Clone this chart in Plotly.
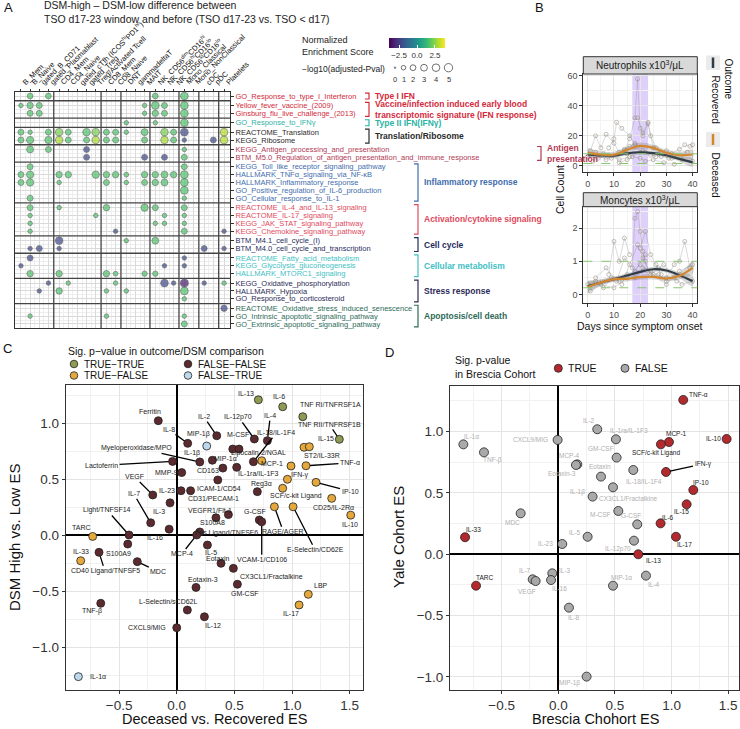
import math
import plotly.graph_objects as go

W, H = 740, 729
FONT = "Liberation Sans, Arial, sans-serif"


def xp(px):
    return px / W


def yp(py):
    return 1 - py / H


# ======================= Panel A data =======================
a_cells = ["B_Mem", "B_Naive", "gated_B_CD71", "gated_Plasmablast", "CD4_Mem", "CD4_Naive",
           "gated_cTfh (ICOS<sup>hi</sup>PD1<sup>hi</sup>)", "gated_Treg", "Treg/Activated Tcell",
           "CD8_Mem", "CD8_Naive", "DNT", "gammadeltaT", "MAIT",
           "NK_CD56<sup>dim</sup>CD16<sup>hi</sup>", "NK_CD56<sup>hi</sup>CD16<sup>lo</sup>",
           "NK_CD56<sup>lo</sup>CD16<sup>lo</sup>", "Mono_Classical", "Mono_NonClassical",
           "cDC", "pDC", "Platelets"]
a_cell_group = [0, 0, 0, 0, 1, 1, 1, 1, 1, 2, 2, 3, 3, 3, 4, 4, 4, 5, 5, 6, 6, 7]

a_pathways = ["GO_Response_to_type_I_Interferon", "Yellow_fever_vaccine_(2009)",
              "Ginsburg_flu_live_challenge_(2013)", "GO_Response_to_IFNγ",
              "REACTOME_Translation", "KEGG_Ribosome",
              "KEGG_Antigen_processing_and_presentation",
              "BTM_M5.0_Regulation_of_antigen_presentation_and_immune_response",
              "KEGG_Toll_like_receptor_signaling_pathway", "HALLMARK_TNFα_signaling_via_NF-κB",
              "HALLMARK_Inflammatory_response", "GO_Positive_regulation_of_IL-6_production",
              "GO_Cellular_response_to_IL-1", "REACTOME_IL-4_and_IL-13_signaling",
              "REACTOME_IL-17_signaling", "KEGG_JAK_STAT_signaling_pathway",
              "KEGG_Chemokine_signaling_pathway", "BTM_M4.1_cell_cycle_(I)",
              "BTM_M4.0_cell_cycle_and_transcription", "REACTOME_Fatty_acid_metabolism",
              "KEGG_Glycolysis_gluconeogenesis", "HALLMARK_MTORC1_signaling",
              "KEGG_Oxidative_phosphorylation", "HALLMARK_Hypoxia", "GO_Response_to_corticosteroid",
              "REACTOME_Oxidative_stress_induced_senescence",
              "GO_Intrinsic_apoptotic_signaling_pathway", "GO_Extrinsic_apoptotic_signaling_pathway"]
a_path_group = [0, 1, 1, 2, 3, 3, 4, 4, 5, 5, 5, 5, 5, 6, 6, 6, 6, 7, 7, 8, 8, 8, 9, 9, 9, 10, 10, 10]

a_group_names = ["Type I IFN",
                 "Vaccine/infection induced early blood<br>transcriptomic signature (IFN response)",
                 "Type II IFN(IFNγ)", "Translation/Ribosome", "Antigen<br>presentation",
                 "Inflammatory response", "Activation/cytokine signaling", "Cell cycle",
                 "Cellular metabolism", "Stress response", "Apoptosis/cell death"]

# dots: pathway row index, cell column index, NES, -log10(adj p)
a_dot_row = [0, 0, 0, 0,
             1, 1, 1, 1, 1, 1, 1,
             2, 2, 2, 2, 2, 2,
             3, 3, 3,
             4, 4, 4, 4, 4, 4, 4, 4, 4, 4, 4, 4, 4, 4, 4,
             5, 5, 5, 5, 5, 5, 5, 5, 5, 5, 5, 5, 5, 5, 5,
             6, 6, 6, 6,
             7, 7, 7, 7,
             8, 8,
             9, 9, 9, 9, 9, 9, 9, 9, 9, 9, 9, 9, 9,
             10, 10, 10, 10, 10, 10, 10, 10, 10,
             11,
             12, 12,
             13, 13, 13, 13, 13, 13,
             14, 14, 14, 14,
             15, 15, 15, 15,
             16, 16, 16, 16,
             17, 17, 17,
             18, 18, 18, 18, 18,
             19, 19,
             20, 20, 20,
             21, 21, 21, 21, 21, 21,
             22, 22, 22, 22, 22, 22, 22, 22,
             23, 23, 23, 23, 23,
             24,
             25,
             26, 26, 26,
             27]
a_dot_col = [1, 3, 14, 17,
             0, 1, 2, 13, 14, 15, 17,
             1, 2, 13, 14, 15, 17,
             11, 14, 17,
             0, 1, 3, 4, 5, 7, 8, 9, 10, 11, 13, 15, 16, 17, 21,
             0, 1, 3, 4, 5, 7, 8, 9, 10, 13, 15, 16, 17, 20, 21,
             1, 3, 7, 17,
             7, 13, 15, 17,
             1, 17,
             0, 1, 4, 5, 8, 9, 10, 11, 13, 14, 15, 16, 17,
             0, 1, 4, 9, 11, 13, 14, 15, 17,
             17,
             1, 17,
             1, 4, 9, 13, 14, 17,
             1, 8, 15, 17,
             1, 14, 15, 17,
             1, 10, 17, 21,
             4, 11, 14,
             1, 2, 4, 19, 21,
             1, 17,
             0, 15, 17,
             1, 4, 9, 10, 13, 14,
             3, 5, 10, 15, 16, 17, 19, 21,
             2, 4, 9, 11, 17,
             17,
             21,
             1, 9, 17,
             17]
a_dot_nes = [1.7, 1.7, 1.7, 1.7,
             1.7, 1.7, 1.7, 1.7, 1.7, 1.7, 1.7,
             1.7, 1.7, 1.7, 1.7, 1.7, 1.7,
             1.7, 1.7, 1.7,
             1.7, 1.7, 1.7, 2.3, 1.7, 1.7, 2.3, 1.7, 1.7, 1.7, 1.7, 2.3, 1.7, -2.2, 3.0,
             1.7, 1.7, 1.7, 2.9, 1.7, 1.7, 2.9, 1.7, 1.7, 1.7, 2.9, 1.7, -2.2, -2.2, 3.0,
             1.7, 1.7, -2.2, 1.7,
             -2.2, -2.2, -2.2, 1.7,
             1.7, 1.7,
             1.7, 1.7, 1.7, 1.7, 1.7, 1.7, 1.7, 1.7, 1.7, 1.7, 1.7, 1.7, 1.7,
             1.7, 1.7, 1.7, 1.7, 1.7, 1.7, 1.7, 1.7, 1.7,
             1.7,
             1.7, 1.7,
             1.7, 1.7, 1.7, 1.7, 1.7, 1.7,
             1.7, 1.7, 1.7, 1.7,
             1.7, 1.7, 1.7, 1.7,
             1.7, -2.2, 1.7, -2.2,
             -2.2, 1.7, 1.7,
             -2.2, -2.2, -2.2, -2.2, -2.2,
             -2.2, -2.2,
             -2.2, -2.2, -2.2,
             1.7, 1.7, 1.7, 1.7, 1.7, 1.7,
             -2.2, 1.7, 1.7, -2.2, -2.2, -3.3, -2.2, 1.7,
             -2.2, 1.7, 1.7, 1.7, 1.7,
             1.7,
             -2.2,
             1.7, 1.7, 1.7,
             1.7]
a_dot_logp = [2.0, 2.0, 2.0, 4.2,
              1.0, 2.6, 2.2, 1.0, 4.2, 2.2, 4.2,
              2.2, 2.2, 1.0, 2.6, 2.2, 4.2,
              1.0, 1.0, 4.2,
              2.2, 1.0, 2.2, 4.0, 2.2, 4.0, 4.0, 2.2, 2.2, 1.0, 3.2, 4.0, 2.2, 4.2, 4.2,
              2.2, 3.6, 3.6, 4.0, 2.2, 2.2, 4.0, 2.2, 2.2, 2.2, 4.0, 2.2, 1.0, 2.2, 4.2,
              3.2, 2.2, 2.2, 1.0,
              2.2, 2.2, 2.2, 2.2,
              2.2, 2.2,
              2.2, 3.6, 2.6, 2.6, 3.6, 2.6, 2.6, 1.2, 2.6, 2.6, 3.2, 2.6, 4.2,
              2.2, 3.6, 1.0, 2.2, 1.0, 2.2, 2.6, 3.2, 4.2,
              4.2,
              2.2, 1.0,
              2.2, 1.0, 2.6, 3.6, 2.2, 2.2,
              1.0, 1.0, 1.0, 1.0,
              1.0, 1.0, 1.0, 1.0,
              1.0, 1.0, 2.2, 1.0,
              4.0, 1.0, 3.2,
              1.0, 2.2, 1.0, 2.2, 1.0,
              2.2, 1.0,
              1.0, 1.0, 1.0,
              2.6, 2.6, 2.6, 1.2, 1.6, 1.6,
              1.0, 1.0, 1.0, 4.2, 1.0, 4.6, 1.0, 1.0,
              1.0, 2.6, 1.0, 1.0, 4.2,
              1.0,
              2.6,
              1.0, 1.0, 1.0,
              2.2]

# ======================= Panel B data =======================
b_days = [0, 5, 10, 15, 20, 25, 30, 35, 40]
b_neu_rec = [7.6, 6.9, 6.8, 8.2, 9.0, 8.4, 7.0, 4.6, 2.2]
b_neu_rec_se = [2.2, 1.5, 1.3, 1.3, 1.4, 1.3, 1.4, 1.8, 2.8]
b_neu_dec = [8.8, 7.4, 7.3, 10.6, 13.3, 11.9, 8.7, 7.0, 7.5]
b_neu_dec_se = [3.0, 2.2, 2.0, 2.0, 2.2, 2.0, 2.0, 2.2, 3.0]
b_mono_rec = [0.25, 0.36, 0.46, 0.57, 0.68, 0.76, 0.72, 0.58, 0.40]
b_mono_rec_se = [0.15, 0.08, 0.07, 0.07, 0.07, 0.07, 0.07, 0.09, 0.15]
b_mono_dec = [0.22, 0.36, 0.46, 0.47, 0.52, 0.53, 0.48, 0.56, 0.80]
b_mono_dec_se = [0.20, 0.10, 0.08, 0.08, 0.08, 0.08, 0.08, 0.10, 0.18]

b_neu_traj_days = [[14, 16, 18, 19, 20, 21, 23, 25],
                   [1, 3, 5, 7, 10, 12, 15],
                   [8, 10, 11, 13, 16, 18],
                   [19, 21, 23, 24, 26, 28],
                   [30, 32, 35, 37, 39, 40],
                   [0, 4, 8, 12, 16, 20, 24, 28, 32, 36, 40],
                   [2, 6, 9, 14, 18, 22, 26],
                   [12, 15, 17, 20, 22, 25, 29, 33],
                   [3, 7, 11, 16, 21, 27, 31, 38]]
b_neu_traj_vals = [[10, 18, 32, 58, 25, 20, 28, 12],
                   [10, 20, 12, 21, 15, 9, 8],
                   [12, 18, 29, 25, 20, 14],
                   [32, 22, 29, 20, 12, 9],
                   [10, 8, 11, 14, 13, 14],
                   [6, 5, 7, 4, 6, 9, 7, 6, 5, 4, 3],
                   [3, 8, 5, 11, 15, 9, 6],
                   [2, 4, 6, 5, 3, 4, 2, 1],
                   [9, 4, 7, 13, 10, 8, 5, 9]]
b_mono_traj_days = [[17, 18, 19, 20, 21, 22, 23],
                    [8, 10, 12, 14, 16],
                    [20, 22, 24, 26, 28],
                    [30, 33, 35, 37, 39],
                    [0, 3, 6, 9, 12, 15, 18, 21, 24, 27, 30, 33, 36, 40],
                    [1, 5, 10, 15, 20, 25, 30, 35, 40],
                    [3, 7, 11, 14, 18, 22, 27],
                    [13, 16, 19, 21, 24, 29, 34]]
b_mono_traj_vals = [[0.8, 2.3, 2.5, 1.9, 1.3, 1.0, 0.7],
                    [0.6, 1.6, 1.0, 1.7, 1.2],
                    [1.4, 1.9, 1.2, 0.9, 0.6],
                    [0.5, 0.9, 1.0, 1.6, 0.8],
                    [0.3, 0.4, 0.2, 0.5, 0.4, 0.6, 0.5, 0.8, 0.7, 0.6, 0.4, 0.5, 0.3, 0.4],
                    [0.1, 0.3, 0.2, 0.5, 0.9, 0.6, 0.3, 0.7, 0.9],
                    [0.5, 0.8, 0.4, 1.1, 0.7, 1.2, 0.8],
                    [0.3, 0.9, 1.5, 1.1, 0.6, 0.9, 0.4]]
b_neu_ref = [1.5, 8.0]
b_mono_ref = [0.2, 1.0]
b_window = [17, 23]

# ======================= Panel C data =======================
c_names = ["IL-13", "IL-6", "TNF RI/TNFRSF1A", "TNF RII/TNFRSF1B", "IL-15", "ST2/IL-33R", "TNF-α",
           "MCP-1", "Lipocalin-2/NGAL", "IFN-γ", "IP-10", "SCF/c-kit Ligand", "CD25/IL-2Rα", "IL-10",
           "RAGE/AGER", "E-Selectin/CD62E", "LBP", "IL-17", "TARC", "IL-33", "MIP-1β", "IL-1α",
           "Ferritin", "IL-8", "IL-2", "M-CSF", "IL-12p70", "IL-4", "IL-18/IL-1F4",
           "Myeloperoxidase/MPO", "IL-1β", "MIP-1α", "Lactoferrin", "MMP-9", "CD163", "IL-1ra/IL-1F3",
           "CD31/PECAM-1", "ICAM-1/CD54", "IL-23", "Reg3α", "VEGF", "IL-3", "IL-7", "VEGFR1/Flt-1",
           "S100A8", "G-CSF", "VCAM-1/CD106", "IL-16", "Light/TNFSF14", "Fas Ligand/TNFSF6", "MCP-4",
           "S100A9", "IL-5", "CD40 Ligand/TNFSF5", "MDC", "Eotaxin", "CX3CL1/Fractalkine", "GM-CSF",
           "Eotaxin-3", "L-Selectin/sCD62L", "IL-12", "CXCL9/MIG", "TNF-β"]
c_x = [0.708, 0.919, 1.093, 1.41, 1.104, 1.15, 1.121,
       0.991, 0.737, 0.96, 1.208, 0.919, 1.344, 1.509,
       0.847, 1.009, 1.141, 1.061, -0.729, -0.833, 0.26, -0.853,
       -0.16, 0.095, 0.347, 0.486, 0.673, 0.786, 0.665,
       0.2, 0.54, 0.309, -0.036, 0.043, 0.40, 0.52,
       0.356, 0.12, 0.037, 0.699, -0.208, -0.058, -0.226, 0.448,
       0.34, 0.716, 0.737, -0.066, -0.414, 0.2, 0.173,
       -0.425, 0.266, -0.674, -0.342, 0.384, 0.491, 0.526,
       0.167, 0.092, 0.24, 0.0, -0.659]
c_y = [1.21, 1.148, 1.059, 0.857, 0.786, 0.791, 0.621,
       0.619, 0.666, 0.50, 0.473, 0.42, 0.33, 0.18,
       0.255, 0.255, -0.527, -0.622, -0.01, -0.227, 0.797, -1.262,
       1.023, 0.821, 0.889, 0.77, 0.86, 0.845, 0.657,
       0.655, 0.77, 0.67, 0.66, 0.56, 0.60, 0.607,
       0.494, 0.398, 0.398, 0.39, 0.36, 0.29, 0.112, 0.185,
       0.157, 0.137, 0.12, 0.055, 0.003, 0.03, 0.003,
       -0.078, -0.087, -0.152, -0.235, -0.25, -0.295, -0.437,
       -0.465, -0.667, -0.727, -0.825, -0.607]
c_sig = ["TRUE-TRUE"] * 4 + ["TRUE-FALSE"] * 16 + ["FALSE-TRUE", "FALSE-TRUE"] + ["FALSE-FALSE"] * 41
c_levels = ["TRUE-TRUE", "TRUE-FALSE", "FALSE-FALSE", "FALSE-TRUE"]

# ======================= Panel D data =======================
d_names = ["TNF-α", "IL-2", "IL-1ra/IL-1F3", "IL-1α", "CXCL9/MIG", "MCP-1", "SCF/c-kit Ligand", "IL-10",
           "TNF-β", "GM-CSF", "MCP-4", "Eotaxin-3", "Eotaxin", "IL-18/IL-1F4", "IFN-γ", "IL-1β",
           "IP-10", "CX3CL1/Fractalkine", "IL-15", "MDC", "M-CSF", "G-CSF", "IL-6", "IL-33", "IL-5",
           "IL-23", "IL-12p70", "IL-13", "IL-17", "TARC", "IL-7", "VEGF", "IL-3", "IL-16", "MIP-1α",
           "IL-4", "IL-8", "MIP-1β"]
d_x = [1.103, 0.344, 0.509, -0.838, -0.006, 0.977, 0.906, 1.486,
       -0.656, 0.515, 0.168, 0.156, 0.377, 0.662, 0.951, 0.483,
       1.192, 0.303, 1.133, -0.332, 0.53, 0.697, 0.903, -0.823, 0.259,
       0.035, 0.668, 0.706, 1.039, -0.726, -0.226, -0.2, -0.053, -0.064, 0.483,
       0.774, 0.094, 0.25]
d_y = [1.258, 1.019, 0.937, 0.896, 0.932, 0.915, 0.896, 0.94,
       0.831, 0.788, 0.733, 0.728, 0.633, 0.687, 0.671, 0.546,
       0.524, 0.47, 0.407, 0.334, 0.353, 0.244, 0.252, 0.139, 0.143,
       0.084, 0.111, 0.0, 0.143, -0.256, -0.204, -0.218, -0.155, -0.21, -0.256,
       -0.174, -0.435, -0.997]
d_sig = [True, False, False, False, False, True, True, True,
         False, False, False, False, False, False, True, False,
         True, False, True, False, False, False, True, True, False,
         False, False, True, True, True, False, False, False, False, False,
         False, False, False]

# ======================= styles =======================
a_group_colors = ["#D42A3C", "#D42A3C", "#2DB3A5", "#2A2A2A", "#B23A55", "#3F6EAE", "#E04A5E",
                  "#1F2C60", "#43BFC4", "#2C2B57", "#2E6A58"]
c_colors = {"TRUE-TRUE": "#8E9B52", "TRUE-FALSE": "#E4A83C", "FALSE-FALSE": "#5B2A2F",
            "FALSE-TRUE": "#BCD8EB"}
rec_color, dec_color = "#2F3B45", "#D3862D"

c_label_off = {
    "IL-13": (-12, -6), "IL-6": (-4, -10), "TNF RI/TNFRSF1A": (28, -12), "TNF RII/TNFRSF1B": (-10, -15),
    "IL-15": (22, -9), "ST2/IL-33R": (13, 9), "TNF-α": (44, -3), "MCP-1": (-19, -2),
    "Lipocalin-2/NGAL": (-3, -8), "IFN-γ": (13, -4), "IP-10": (34, 9), "SCF/c-kit Ligand": (13, 8),
    "CD25/IL-2Rα": (2, 9), "IL-10": (-1, 9), "RAGE/AGER": (9, 25), "E-Selectin/CD62E": (22, 43),
    "LBP": (13, -9), "IL-17": (-8, 9), "TARC": (-11, -9), "IL-33": (0, -9), "MIP-1β": (-8, -12),
    "IL-1α": (20, 0), "Ferritin": (-8, -9), "IL-8": (-19, -14), "IL-2": (-13, -19), "M-CSF": (5, -15),
    "IL-12p70": (-16, -22), "IL-4": (3, -25), "IL-18/IL-1F4": (23, -29), "Myeloperoxidase/MPO": (-63, -14),
    "IL-1β": (-47, 4), "MIP-1α": (13, -2), "Lactoferrin": (-71, 4), "MMP-9": (-15, 0), "CD163": (-15, 2),
    "IL-1ra/IL-1F3": (22, 6), "CD31/PECAM-1": (-4, 19), "ICAM-1/CD54": (28, -2), "IL-23": (-14, 0),
    "Reg3α": (4, -8), "VEGF": (-18, -18), "IL-3": (-11, 9), "IL-7": (-17, -29), "VEGFR1/Flt-1": (-18, -4),
    "S100A8": (-3, 5), "G-CSF": (-4, -8), "VCAM-1/CD106": (0, 38), "IL-16": (-14, 8),
    "Light/TNFSF14": (-22, -25), "Fas Ligand/TNFSF6": (27, 1), "MCP-4": (-15, 19), "S100A9": (-9, 9),
    "IL-5": (4, 7), "CD40 Ligand/TNFSF5": (6, 19), "MDC": (21, 10), "Eotaxin": (-4, -5),
    "CX3CL1/Fractalkine": (38, 8), "GM-CSF": (8, 9), "Eotaxin-3": (7, -8), "L-Selectin/sCD62L": (-19, -9),
    "IL-12": (9, 9), "CXCL9/MIG": (-30, 0), "TNF-β": (-9, 8)}
c_label_line = {"IL-8", "IL-2", "IL-12p70", "IL-4", "IL-18/IL-1F4", "TNF RII/TNFRSF1B", "TNF-α",
                "Myeloperoxidase/MPO", "Lactoferrin", "VEGF", "IL-7", "Light/TNFSF14", "IP-10",
                "RAGE/AGER", "E-Selectin/CD62E", "VCAM-1/CD106", "MCP-4", "CD40 Ligand/TNFSF5", "MDC"}

d_label_off = {
    "TNF-α": (15, -5), "IL-2": (-8, -9), "IL-1ra/IL-1F3": (13, -9), "IL-1α": (8, -8), "CXCL9/MIG": (-27, 0),
    "MCP-1": (8, -9), "SCF/c-kit Ligand": (-5, 9), "IL-10": (-13, 0), "TNF-β": (9, 8), "GM-CSF": (-16, -9),
    "MCP-4": (-8, -9), "Eotaxin-3": (-14, 9), "Eotaxin": (-1, -10), "IL-18/IL-1F4": (11, 11),
    "IFN-γ": (37, -8), "IL-1β": (-36, 5), "IP-10": (8, -8), "CX3CL1/Fractalkine": (36, 2),
    "IL-15": (-5, 7), "MDC": (-8, 9), "M-CSF": (-18, 4), "G-CSF": (-6, -9), "IL-6": (7, -6),
    "IL-33": (8, -8), "IL-5": (-13, -4), "IL-23": (-17, 0), "IL-12p70": (-16, 8), "IL-13": (15, 6),
    "IL-17": (9, 8), "TARC": (9, -8), "IL-7": (-8, -9), "VEGF": (-9, 10), "IL-3": (13, -3),
    "IL-16": (8, 8), "MIP-1α": (8, -8), "IL-4": (8, 9), "IL-8": (5, 10), "MIP-1β": (-17, 6)}
d_label_line = {"IFN-γ"}

# ======================= build figure =======================
fig = go.Figure()
shapes = []
annotations = []


def pa(px_x, px_y, text, size, color="#111", xanchor="center", yanchor="middle", **kw):
    d = dict(xref="paper", yref="paper", x=xp(px_x), y=yp(px_y), text=text, showarrow=False,
             xanchor=xanchor, yanchor=yanchor, font=dict(family=FONT, size=size, color=color))
    d.update(kw)
    annotations.append(d)


# ---------- Panel A ----------
col_pos = [i + 0.17 * g for i, g in enumerate(a_cell_group)]
row_pos = [j + 0.2 * g for j, g in enumerate(a_path_group)]


def dot_size(v):
    return 1.5 + 6.8 * math.sqrt(max(v, 0) / 5.0)


fig.add_trace(go.Scatter(
    x=[col_pos[c] for c in a_dot_col], y=[row_pos[r] for r in a_dot_row],
    mode="markers", xaxis="x", yaxis="y", showlegend=False,
    marker=dict(size=[dot_size(v) for v in a_dot_logp], color=a_dot_nes, coloraxis="coloraxis",
                line=dict(color="#333333", width=0.6)),
    hoverinfo="skip"))

col_minor = []
for i in range(len(col_pos) - 1):
    if a_cell_group[i] == a_cell_group[i + 1]:
        col_minor.append((col_pos[i] + col_pos[i + 1]) / 2)
row_minor = []
for j in range(len(row_pos) - 1):
    if a_path_group[j] == a_path_group[j + 1]:
        row_minor.append((row_pos[j] + row_pos[j + 1]) / 2)

x_lo, x_hi = -0.65, col_pos[-1] + 0.65
y_lo, y_hi = -0.55, row_pos[-1] + 0.55

# separators between facet groups
for i in range(len(col_pos) - 1):
    if a_cell_group[i] != a_cell_group[i + 1]:
        xm = (col_pos[i] + col_pos[i + 1]) / 2
        shapes.append(dict(type="line", xref="x", yref="y", x0=xm, x1=xm, y0=y_lo, y1=y_hi,
                           line=dict(color="#444444", width=1.3)))
for j in range(len(row_pos) - 1):
    if a_path_group[j] != a_path_group[j + 1]:
        ym = (row_pos[j] + row_pos[j + 1]) / 2
        shapes.append(dict(type="line", xref="x", yref="y", x0=x_lo, x1=x_hi, y0=ym, y1=ym,
                           line=dict(color="#444444", width=1.3)))

row_text = ["<span style='color:%s'>%s</span>" % (a_group_colors[g], p)
            for p, g in zip(a_pathways, a_path_group)]

# column labels (rotated 45 degrees)
for cp, lab in zip(col_pos, a_cells):
    annotations.append(dict(xref="x", yref="paper", x=cp, y=yp(89.5), text=lab, textangle=-45,
                            showarrow=False, xanchor="left", yanchor="bottom", xshift=-3,
                            font=dict(family=FONT, size=7.5, color="#111")))

# group brackets & labels
bracket_x = {0: 369, 1: 369, 2: 369, 3: 369, 4: 541}
for g, name in enumerate(a_group_names):
    rows = [row_pos[j] for j in range(len(row_pos)) if a_path_group[j] == g]
    ya, yb = min(rows) - 0.38, max(rows) + 0.38
    bx = bracket_x.get(g, 418)
    x0, x1 = xp(bx - 4), xp(bx)
    shapes.append(dict(type="path", xref="paper", yref="y",
                       path="M %f,%f L %f,%f L %f,%f L %f,%f" % (x0, ya, x1, ya, x1, yb, x0, yb),
                       line=dict(color=a_group_colors[g], width=1.2)))
    annotations.append(dict(xref="paper", yref="y", x=xp(bx + 4), y=sum(rows) / len(rows),
                            text="<b>%s</b>" % name, showarrow=False, xanchor="left", yanchor="middle",
                            align="left", font=dict(family=FONT, size=8.5, color=a_group_colors[g])))

# size legend (-log10 p)
leg_cx = [395, 403.5, 413, 424, 436, 448.5]
for k, cx in enumerate(leg_cx):
    d = dot_size(k)
    shapes.append(dict(type="circle", xref="paper", yref="paper",
                       x0=xp(cx - d / 2), x1=xp(cx + d / 2), y0=yp(67.7 + d / 2), y1=yp(67.7 - d / 2),
                       line=dict(color="#333333", width=0.7), fillcolor="white"))
    pa(cx, 79.5, str(k), 7.5, "#333333")
pa(300, 68.5, "−log10(adjusted-Pval)", 8.5, "#222", xanchor="left")
pa(300, 46, "Normalized<br>Enrichment Score", 9, "#222", xanchor="left", align="left")
pa(42, 12, "DSM-high – DSM-low difference between<br>TSO d17-23 window and before (TSO d17-23 vs. TSO < d17)",
   10.5, "#222", xanchor="left", align="left")

# ---------- Panel B ----------
def add_b_panel(xa, ya, traj_d, traj_v, days, rec, rec_se, dec, dec_se):
    for dd, vv in zip(traj_d, traj_v):
        fig.add_trace(go.Scatter(x=dd, y=vv, xaxis=xa, yaxis=ya, mode="lines+markers", showlegend=False,
                                 line=dict(color="rgba(120,120,120,0.35)", width=0.8),
                                 marker=dict(symbol="circle-open", size=4, color="rgba(150,140,130,0.55)"),
                                 hoverinfo="skip"))
    for m, se, col in ((rec, rec_se, rec_color), (dec, dec_se, dec_color)):
        up = [a + b for a, b in zip(m, se)]
        lo = [a - b for a, b in zip(m, se)]
        fig.add_trace(go.Scatter(x=days + days[::-1], y=up + lo[::-1], xaxis=xa, yaxis=ya, fill="toself",
                                 fillcolor="rgba(110,110,110,0.28)", line=dict(width=0, shape="spline"),
                                 mode="lines", showlegend=False, hoverinfo="skip"))
        fig.add_trace(go.Scatter(x=days, y=m, xaxis=xa, yaxis=ya, mode="lines", showlegend=False,
                                 line=dict(color=col, width=2.2, shape="spline"), hoverinfo="skip"))


add_b_panel("x2", "y2", b_neu_traj_days, b_neu_traj_vals, b_days, b_neu_rec, b_neu_rec_se, b_neu_dec, b_neu_dec_se)
add_b_panel("x3", "y3", b_mono_traj_days, b_mono_traj_vals, b_days, b_mono_rec, b_mono_rec_se, b_mono_dec,
            b_mono_dec_se)

for xa, ya, refs in (("x2", "y2", b_neu_ref), ("x3", "y3", b_mono_ref)):
    shapes.append(dict(type="rect", xref=xa, yref=ya + " domain", x0=b_window[0], x1=b_window[1], y0=0, y1=1,
                       fillcolor="rgba(196,170,248,0.55)", line=dict(width=0), layer="below"))
    for r in refs:
        shapes.append(dict(type="line", xref=xa + " domain", yref=ya, x0=0, x1=1, y0=r, y1=r,
                           line=dict(color="#86C56E", width=1, dash="dash"), layer="above"))

for (top, bot, txt) in ((56.7, 74, "Neutrophils x10<sup>3</sup>/μL"), (192.7, 206.7, "Moncytes x10<sup>3</sup>/μL")):
    shapes.append(dict(type="rect", xref="paper", yref="paper", x0=xp(583.3), x1=xp(697.3), y0=yp(bot), y1=yp(top),
                       fillcolor="#D9D9D9", line=dict(color="#333333", width=1)))
    pa(640.3, (top + bot) / 2, txt, 10, "#1a1a1a")
pa(640, 326, "Days since symptom onset", 10.5)
pa(560, 190, "Cell Count", 10.5, textangle=-90)
# B legend (rotated)
pa(728.5, 79, "Outcome", 10, textangle=90)
for (k0, k1, lt0, lt1, txt, col) in ((55.5, 70, 74, 125, "Recovered", rec_color),
                                    (132, 147, 151, 198, "Deceased", dec_color)):
    shapes.append(dict(type="rect", xref="paper", yref="paper", x0=xp(706), x1=xp(720), y0=yp(k1), y1=yp(k0),
                       fillcolor="#EBEBEB", line=dict(width=0)))
    shapes.append(dict(type="line", xref="paper", yref="paper", x0=xp(713), x1=xp(713), y0=yp(k1 - 2),
                       y1=yp(k0 + 2), line=dict(color=col, width=2.5)))
    pa(715, (lt0 + lt1) / 2, txt, 10, textangle=90)

# ---------- Panel C ----------
fig.add_trace(go.Scatter(x=c_x, y=c_y, xaxis="x4", yaxis="y4", mode="markers", showlegend=False,
                         marker=dict(size=8, color=[c_colors[s] for s in c_sig],
                                     line=dict(color="#222222", width=0.8)),
                         text=c_names, hoverinfo="text"))
for n, x, y in zip(c_names, c_x, c_y):
    dx, dy = c_label_off.get(n, (0, -9))
    if n in c_label_line:
        annotations.append(dict(xref="x4", yref="y4", x=x, y=y, text=n, showarrow=True, ax=dx, ay=dy,
                                arrowhead=0, arrowwidth=1.3, arrowcolor="black", standoff=4,
                                font=dict(family=FONT, size=7, color="#222")))
    else:
        annotations.append(dict(xref="x4", yref="y4", x=x, y=y, text=n, showarrow=False, xshift=dx, yshift=-dy,
                                xanchor="center", yanchor="middle",
                                font=dict(family=FONT, size=7, color="#222")))
# C legend
pa(66, 351, "Sig. p−value in outcome/DSM comparison", 10.5, xanchor="left")
c_leg_pos = {"TRUE-TRUE": (74, 364), "TRUE-FALSE": (74, 375.5), "FALSE-FALSE": (188, 364),
             "FALSE-TRUE": (188, 375.5)}
for lev in c_levels:
    cx, cy = c_leg_pos[lev]
    shapes.append(dict(type="circle", xref="paper", yref="paper", x0=xp(cx - 3.8), x1=xp(cx + 3.8),
                       y0=yp(cy + 3.8), y1=yp(cy - 3.8), fillcolor=c_colors[lev],
                       line=dict(color="#222222", width=0.8)))
    pa(cx + 8, cy, lev.replace("-", "−"), 10, xanchor="left")

# ---------- Panel D ----------
fig.add_trace(go.Scatter(x=d_x, y=d_y, xaxis="x5", yaxis="y5", mode="markers", showlegend=False,
                         marker=dict(size=9, color=["#B2292E" if s else "#A9A9A9" for s in d_sig],
                                     line=dict(color="#222222", width=0.8)),
                         text=d_names, hoverinfo="text"))
for n, x, y, s in zip(d_names, d_x, d_y, d_sig):
    dx, dy = d_label_off.get(n, (0, -9))
    colr = "#1a1a1a" if s else "#B0B0B0"
    if n in d_label_line:
        annotations.append(dict(xref="x5", yref="y5", x=x, y=y, text=n, showarrow=True, ax=dx, ay=dy,
                                arrowhead=0, arrowwidth=1.3, arrowcolor="black", standoff=4,
                                font=dict(family=FONT, size=6.5, color=colr)))
    else:
        annotations.append(dict(xref="x5", yref="y5", x=x, y=y, text=n, showarrow=False, xshift=dx, yshift=-dy,
                                xanchor="center", yanchor="middle",
                                font=dict(family=FONT, size=6.5, color=colr)))
pa(453, 367, "Sig. p-value<br>in Brescia Cohort", 10.5, xanchor="left", align="left")
for (cx, txt, col) in ((558.3, "TRUE", "#B2292E"), (625, "FALSE", "#A9A9A9")):
    shapes.append(dict(type="circle", xref="paper", yref="paper", x0=xp(cx - 4), x1=xp(cx + 4),
                       y0=yp(368.3 + 4), y1=yp(368.3 - 4), fillcolor=col, line=dict(color="#222", width=0.8)))
    pa(cx + 8, 368.3, txt, 10.5, xanchor="left")

# axis titles C / D
pa(214, 729, "Deceased vs. Recovered ES", 14.5, yanchor="bottom")
pa(14, 537, "DSM High vs. Low ES", 15, textangle=-90)
pa(595, 729, "Brescia Chohort ES", 14.5, yanchor="bottom")
pa(398, 537, "Yale Cohort ES", 15, textangle=-90)
# panel letters
for (lx, ly, t) in ((8, 8, "A"), (539, 8, "B"), (7, 348, "C"), (390, 352, "D")):
    pa(lx, ly, t, 13)

# ---------- layout ----------
frame = dict(showline=True, mirror=True, linecolor="#333333", linewidth=1, automargin=False)
tickf = dict(family=FONT, size=9, color="#4D4D4D")
big_tickf = dict(family=FONT, size=13.5, color="#333333")
zl = dict(zeroline=True, zerolinecolor="black", zerolinewidth=1.5)
nzl = dict(zeroline=False)

fig.update_layout(
    template="none",
    width=W, height=H, autosize=False, margin=dict(l=0, r=0, t=0, b=0, pad=0),
    paper_bgcolor="white", plot_bgcolor="white", showlegend=False,
    font=dict(family=FONT),
    coloraxis=dict(colorscale="Viridis", cmin=-3.9, cmax=3.9,
                   colorbar=dict(orientation="h", x=xp(389), xanchor="left", y=yp(37.5), yanchor="top",
                                 len=56, lenmode="pixels", thickness=10, thicknessmode="pixels",
                                 tickvals=[-2.5, 0, 2.5], ticktext=["−2.5", "0.0", "2.5"],
                                 tickfont=dict(family=FONT, size=8, color="#333"), ticks="inside",
                                 ticklen=3, tickcolor="white", outlinewidth=0, xpad=0, ypad=0)),
    xaxis=dict(domain=[xp(15), xp(230)], range=[x_lo, x_hi], anchor="y", side="top",
               tickvals=col_pos, showticklabels=False, ticks="outside", ticklen=2,
               tickcolor="#333", showgrid=True, gridcolor="#DADADA", gridwidth=0.6,
               minor=dict(tickvals=col_minor, showgrid=True, gridcolor="#EEEEEE", gridwidth=0.5, ticks=""),
               **frame, **nzl),
    yaxis=dict(domain=[yp(328.3), yp(91.7)], range=[y_hi, y_lo], anchor="x", side="right",
               tickvals=row_pos, ticktext=row_text, ticks="outside", ticklen=3, tickcolor="#333",
               tickfont=dict(family=FONT, size=7.5), showgrid=True, gridcolor="#DADADA", gridwidth=0.6,
               minor=dict(tickvals=row_minor, showgrid=True, gridcolor="#EEEEEE", gridwidth=0.5, ticks=""),
               **frame, **nzl),
    xaxis2=dict(domain=[xp(583.3), xp(697.3)], range=[-1.7, 41.8], anchor="y2", tickvals=[0, 10, 20, 30, 40],
                ticks="outside", ticklen=3, tickcolor="#333", tickfont=tickf, showgrid=True,
                gridcolor="#E6E6E6", minor=dict(tickvals=[5, 15, 25, 35], showgrid=True, gridcolor="#F3F3F3"),
                **frame, **nzl),
    yaxis2=dict(domain=[yp(172.3), yp(74)], range=[-4.4, 61.3], anchor="x2", tickvals=[0, 20, 40, 60],
                ticks="outside", ticklen=3, tickcolor="#333", tickfont=tickf, showgrid=True,
                gridcolor="#E6E6E6", minor=dict(tickvals=[10, 30, 50], showgrid=True, gridcolor="#F3F3F3"),
                **frame, **nzl),
    xaxis3=dict(domain=[xp(583.3), xp(697.3)], range=[-1.7, 41.8], anchor="y3", tickvals=[0, 10, 20, 30, 40],
                ticks="outside", ticklen=3, tickcolor="#333", tickfont=tickf, showgrid=True,
                gridcolor="#E6E6E6", minor=dict(tickvals=[5, 15, 25, 35], showgrid=True, gridcolor="#F3F3F3"),
                **frame, **nzl),
    yaxis3=dict(domain=[yp(303.3), yp(206.7)], range=[-0.27, 2.65], anchor="x3", tickvals=[0, 1, 2],
                ticks="outside", ticklen=3, tickcolor="#333", tickfont=tickf, showgrid=True,
                gridcolor="#E6E6E6", minor=dict(tickvals=[0.5, 1.5, 2.5], showgrid=True, gridcolor="#F3F3F3"),
                **frame, **nzl),
    xaxis4=dict(domain=[xp(65.7), xp(363.3)], range=[-0.963, 1.618], anchor="y4",
                tickvals=[-0.5, 0, 0.5, 1, 1.5], ticktext=["−0.5", "0.0", "0.5", "1.0", "1.5"],
                ticks="outside", ticklen=3, tickcolor="#333", tickfont=big_tickf, showgrid=True,
                gridcolor="#E4E4E4", gridwidth=1.4,
                minor=dict(tickvals=[-0.75, -0.25, 0.25, 0.75, 1.25], showgrid=True, gridcolor="#F1F1F1",
                           gridwidth=0.8), **frame, **zl),
    yaxis4=dict(domain=[yp(690), yp(385)], range=[-1.381, 1.342], anchor="x4",
                tickvals=[-1, -0.5, 0, 0.5, 1], ticktext=["−1.0", "−0.5", "0.0", "0.5", "1.0"],
                ticks="outside", ticklen=3, tickcolor="#333", tickfont=big_tickf, showgrid=True,
                gridcolor="#E4E4E4", gridwidth=1.4,
                minor=dict(tickvals=[-1.25, -0.75, -0.25, 0.25, 0.75, 1.25], showgrid=True, gridcolor="#F1F1F1",
                           gridwidth=0.8), **frame, **zl),
    xaxis5=dict(domain=[xp(450), xp(739.3)], range=[-0.956, 1.598], anchor="y5",
                tickvals=[-0.5, 0, 0.5, 1, 1.5], ticktext=["−0.5", "0.0", "0.5", "1.0", "1.5"],
                ticks="outside", ticklen=3, tickcolor="#333", tickfont=big_tickf, showgrid=True,
                gridcolor="#E4E4E4", gridwidth=1.4,
                minor=dict(tickvals=[-0.75, -0.25, 0.25, 0.75, 1.25], showgrid=True, gridcolor="#F1F1F1",
                           gridwidth=0.8), **frame, **zl),
    yaxis5=dict(domain=[yp(690), yp(385.7)], range=[-1.106, 1.374], anchor="x5",
                tickvals=[-1, -0.5, 0, 0.5, 1], ticktext=["−1.0", "−0.5", "0.0", "0.5", "1.0"],
                ticks="outside", ticklen=3, tickcolor="#333", tickfont=big_tickf, showgrid=True,
                gridcolor="#E4E4E4", gridwidth=1.4,
                minor=dict(tickvals=[-0.75, -0.25, 0.25, 0.75, 1.25], showgrid=True, gridcolor="#F1F1F1",
                           gridwidth=0.8), **frame, **zl),
    shapes=shapes, annotations=annotations,
)

fig.write_html("out.html", config={"displayModeBar": False},
               post_script="document.body.style.margin='0px';document.body.style.padding='0px';"
                           "document.body.style.overflow='hidden';")
